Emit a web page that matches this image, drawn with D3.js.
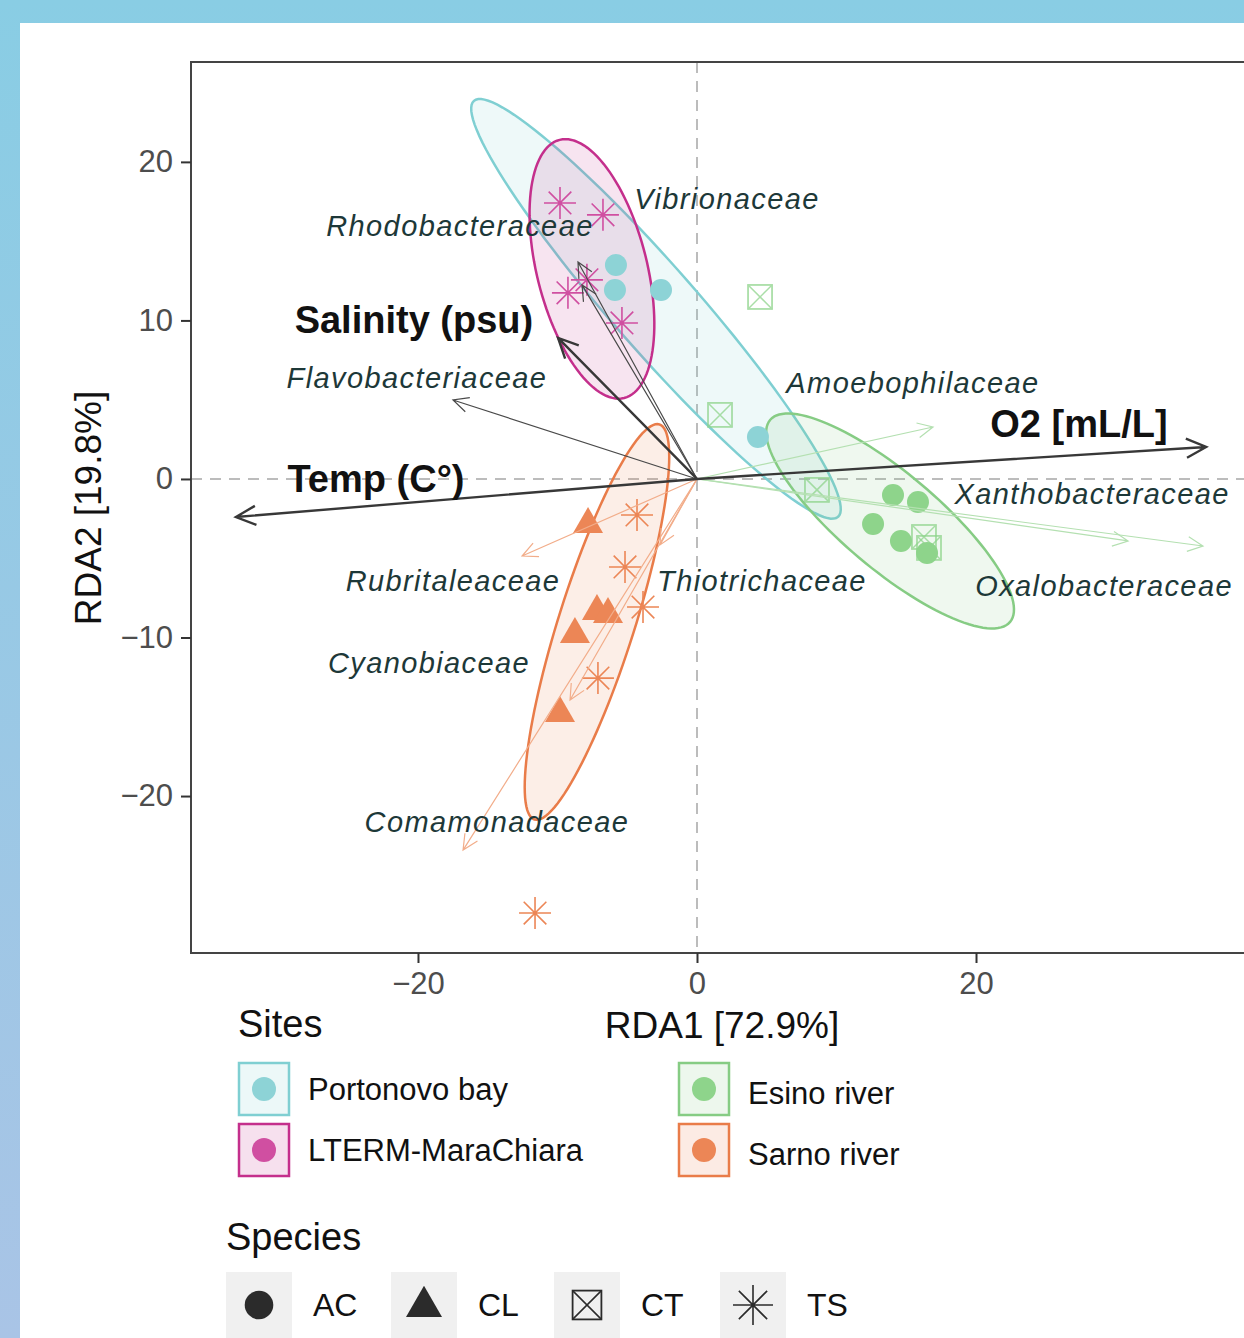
<!DOCTYPE html>
<html>
<head>
<meta charset="utf-8">
<script src="https://cdn.jsdelivr.net/npm/d3@7"></script>
<style>
body { margin: 0; background: linear-gradient(#89cde4, #a9c4e6); width: 1244px; height: 1338px; overflow: hidden; }
svg { display: block; }
text { font-family: "Liberation Sans", Arial, sans-serif; }
</style>
</head>
<body>
<div id="target"></div>
<script>
// sites and species
var sites = ['Portonovo bay', 'LTERM-MaraChiara', 'Esino river', 'Sarno river'];
var speciesNames = ['AC', 'CL', 'CT', 'TS'];

// samples: [site index, species, RDA1, RDA2]
var samples = [
    [0, 'AC', -5.81, 13.50],
    [0, 'AC', -5.88, 11.92],
    [0, 'AC', -2.58, 11.92],
    [0, 'AC', 4.37, 2.65],
    [2, 'CT', 4.52, 11.48],
    [2, 'CT', 1.65, 4.04],
    [2, 'CT', 8.60, -0.69],
    [2, 'AC', 14.05, -1.01],
    [2, 'AC', 15.84, -1.45],
    [2, 'AC', 12.62, -2.84],
    [2, 'AC', 14.62, -3.91],
    [2, 'AC', 16.49, -4.67],
    [2, 'CT', 16.27, -3.66],
    [2, 'CT', 16.63, -4.35],
    [1, 'TS', -9.82, 17.41],
    [1, 'TS', -6.74, 16.66],
    [1, 'TS', -9.25, 11.74],
    [1, 'TS', -7.89, 12.56],
    [1, 'TS', -5.38, 9.84],
    [3, 'CL', -7.81, -2.78],
    [3, 'CL', -7.17, -8.26],
    [3, 'CL', -6.38, -8.45],
    [3, 'CL', -8.75, -9.72],
    [3, 'CL', -9.82, -14.70],
    [3, 'TS', -4.30, -2.27],
    [3, 'TS', -5.16, -5.55],
    [3, 'TS', -3.87, -8.08],
    [3, 'TS', -7.10, -12.56],
    [3, 'TS', -11.61, -27.38]
];

// confidence ellipses per site: centre, semi-axis U, semi-axis V (RDA units)
var ellipseCentre = [[-2.94, 10.73], [-7.53, 13.25], [13.84, -2.65], [-7.17, -9.02]];
var ellipseU = [[13.05, -13.12], [2.31, -8.14], [8.60, -6.37], [-4.48, -12.46]];
var ellipseV = [[2.27, 1.75], [3.83, 0.84], [2.22, 2.32], [2.60, -0.72]];

// environmental vectors
var envNames = ['O2 [mL/L]', 'Temp (C°)', 'Salinity (psu)'];
var envX = [36.5, -33.05, -9.96];
var envY = [2.02, -2.40, 8.90];
var envLabelX = [27.38, -23.01, -20.29];
var envLabelY = [3.47, 0.0, 10.03];

// taxa vectors
var taxaNames = ['Flavobacteriaceae', 'Rhodobacteraceae', 'Vibrionaceae', 'Amoebophilaceae',
    'Xanthobacteraceae', 'Oxalobacteraceae', 'Thiotrichaceae', 'Rubritaleaceae',
    'Cyanobiaceae', 'Comamonadaceae'];
var taxaX = [-17.49, -8.53, -8.24, 16.92, 30.9, 36.27, -2.65, -12.54, -9.10, -16.77];
var taxaY = [4.98, 13.69, 12.24, 3.28, -3.91, -4.23, -4.16, -4.86, -13.94, -23.41];
var taxaGroup = [0, 0, 0, 1, 1, 1, 2, 2, 2, 2];
var taxaLabelX = [-20.07, -16.99, 2.15, 15.48, 28.32, 29.18, 4.66, -17.49, -19.21, -14.34];
var taxaLabelY = [6.37, 15.96, 17.67, 6.06, -0.95, -6.75, -6.44, -6.44, -11.61, -21.64];

var xTicks = [-20, 0, 20];
var yTicks = [-20, -10, 0, 10, 20];

var siteStroke = ['#7fcfd2', '#c42f8c', '#86cc84', '#e97c49'];
var sitePoint = ['#8dd3d6', '#d04fa1', '#8ed48b', '#ec8656'];
var taxaColour = ['#4a4a4a', '#b4e0b1', '#f2ad8a'];

var width = 1244, height = 1338;

var svg = d3.select('#target').append('svg')
    .attr('width', width)
    .attr('height', height);

svg.append('rect')
    .attr('x', 20).attr('y', 23)
    .attr('width', width - 20).attr('height', height - 23)
    .attr('fill', '#fff');

var x = d3.scaleLinear().domain([-36.27, 40.5]).range([191, 1262]);
var y = d3.scaleLinear().domain([-29.9, 26.3]).range([953, 62]);

// zero lines
svg.append('line')
    .attr('x1', x(0)).attr('x2', x(0)).attr('y1', y.range()[1]).attr('y2', y.range()[0])
    .attr('stroke', '#bcbcbc').attr('stroke-width', 2).attr('stroke-dasharray', '11,8');
svg.append('line')
    .attr('x1', x.range()[0]).attr('x2', x.range()[1]).attr('y1', y(0)).attr('y2', y(0))
    .attr('stroke', '#bcbcbc').attr('stroke-width', 2).attr('stroke-dasharray', '11,8');

// ellipses
var ellLine = d3.line().x(function(d) { return x(d[0]); }).y(function(d) { return y(d[1]); });
sites.forEach(function(s, i) {
    var pts = d3.range(0, 121).map(function(k) {
        var t = k / 120 * 2 * Math.PI;
        return [ellipseCentre[i][0] + ellipseU[i][0] * Math.cos(t) + ellipseV[i][0] * Math.sin(t),
                ellipseCentre[i][1] + ellipseU[i][1] * Math.cos(t) + ellipseV[i][1] * Math.sin(t)];
    });
    svg.append('path')
        .attr('d', ellLine(pts) + 'Z')
        .attr('fill', siteStroke[i]).attr('fill-opacity', 0.13)
        .attr('stroke', siteStroke[i]).attr('stroke-width', 2.5);
});

function shape(g, sp, cx, cy, col, s) {
    s = s || 1;
    if (sp == 'AC') {
        g.append('circle').attr('cx', cx).attr('cy', cy).attr('r', 11 * s).attr('fill', col);
    } else if (sp == 'CL') {
        g.append('path')
            .attr('d', 'M' + cx + ',' + (cy - 16 * s) + 'L' + (cx + 15 * s) + ',' + (cy + 10 * s) + 'L' + (cx - 15 * s) + ',' + (cy + 10 * s) + 'Z')
            .attr('fill', col);
    } else if (sp == 'CT') {
        var h = 12 * s;
        g.append('rect').attr('x', cx - h).attr('y', cy - h).attr('width', 2 * h).attr('height', 2 * h)
            .attr('fill', 'none').attr('stroke', col).attr('stroke-width', 1.8);
        g.append('path').attr('d', 'M' + (cx - h) + ',' + (cy - h) + 'L' + (cx + h) + ',' + (cy + h) + 'M' + (cx + h) + ',' + (cy - h) + 'L' + (cx - h) + ',' + (cy + h))
            .attr('stroke', col).attr('stroke-width', 1.5);
    } else {
        var r = 16 * s, d = r * Math.SQRT1_2;
        g.append('path')
            .attr('d', 'M' + (cx - r) + ',' + cy + 'L' + (cx + r) + ',' + cy +
                'M' + cx + ',' + (cy - r) + 'L' + cx + ',' + (cy + r) +
                'M' + (cx - d) + ',' + (cy - d) + 'L' + (cx + d) + ',' + (cy + d) +
                'M' + (cx + d) + ',' + (cy - d) + 'L' + (cx - d) + ',' + (cy + d))
            .attr('stroke', col).attr('stroke-width', 1.6).attr('fill', 'none');
    }
}

// sample points
var pts = svg.append('g');
samples.forEach(function(p) {
    var g = pts.append('g').attr('opacity', p[1] == 'CT' ? 0.75 : 1);
    shape(g, p[1], x(p[2]), y(p[3]), sitePoint[p[0]]);
});

function arrow(x2, y2, col, w, len) {
    var x1 = x(0), y1 = y(0);
    var a = Math.atan2(y2 - y1, x2 - x1), sp = 0.45;
    svg.append('path')
        .attr('d', 'M' + x1 + ',' + y1 + 'L' + x2 + ',' + y2 +
            'M' + (x2 - len * Math.cos(a - sp)) + ',' + (y2 - len * Math.sin(a - sp)) +
            'L' + x2 + ',' + y2 +
            'L' + (x2 - len * Math.cos(a + sp)) + ',' + (y2 - len * Math.sin(a + sp)))
        .attr('stroke', col).attr('stroke-width', w).attr('fill', 'none');
}

// taxa arrows
taxaNames.forEach(function(n, i) {
    arrow(x(taxaX[i]), y(taxaY[i]), taxaColour[taxaGroup[i]], 1.2, 17);
});
// env arrows
envNames.forEach(function(n, i) {
    arrow(x(envX[i]), y(envY[i]), '#383838', 2.4, 22);
});

// labels
svg.append('g').selectAll('text').data(taxaNames).enter().append('text')
    .attr('x', function(d, i) { return x(taxaLabelX[i]); })
    .attr('y', function(d, i) { return y(taxaLabelY[i]); })
    .attr('dy', '0.35em')
    .attr('text-anchor', 'middle')
    .attr('font-style', 'italic')
    .attr('font-size', 29)
    .attr('letter-spacing', 1.4)
    .attr('fill', '#1d3838')
    .text(function(d) { return d; });

svg.append('g').selectAll('text').data(envNames).enter().append('text')
    .attr('x', function(d, i) { return x(envLabelX[i]); })
    .attr('y', function(d, i) { return y(envLabelY[i]); })
    .attr('dy', '0.35em')
    .attr('text-anchor', 'middle')
    .attr('font-weight', 'bold')
    .attr('font-size', 38)
    .attr('fill', '#111')
    .text(function(d) { return d; });

// panel border
svg.append('rect')
    .attr('x', x.range()[0]).attr('y', y.range()[1])
    .attr('width', x.range()[1] - x.range()[0]).attr('height', y.range()[0] - y.range()[1])
    .attr('fill', 'none').attr('stroke', '#444').attr('stroke-width', 2);

// axes
var xAxis = svg.append('g').attr('transform', 'translate(0,' + y.range()[0] + ')')
    .call(d3.axisBottom(x).tickValues(xTicks).tickSize(10).tickPadding(9));
var yAxis = svg.append('g').attr('transform', 'translate(' + x.range()[0] + ',0)')
    .call(d3.axisLeft(y).tickValues(yTicks).tickSize(10).tickPadding(8));
[xAxis, yAxis].forEach(function(a) {
    a.select('.domain').remove();
    a.selectAll('line').attr('stroke', '#333').attr('stroke-width', 2);
    a.selectAll('text').attr('font-size', 31).attr('fill', '#4d4d4d')
        .attr('font-family', '"Liberation Sans", Arial, sans-serif');
});

svg.append('text')
    .attr('x', 722).attr('y', 1038)
    .attr('text-anchor', 'middle').attr('font-size', 37).attr('fill', '#111')
    .text('RDA1 [72.9%]');
svg.append('text')
    .attr('transform', 'translate(101,508) rotate(-90)')
    .attr('text-anchor', 'middle').attr('font-size', 37).attr('fill', '#111')
    .text('RDA2 [19.8%]');

// legend: sites
svg.append('text').attr('x', 238).attr('y', 1037).attr('font-size', 38).attr('fill', '#111').text('Sites');
var keyX = [238, 238, 678, 678], keyY = [1062, 1123, 1062, 1123];
sites.forEach(function(s, i) {
    svg.append('rect')
        .attr('x', keyX[i] + 1).attr('y', keyY[i] + 1).attr('width', 50).attr('height', 52)
        .attr('fill', siteStroke[i]).attr('fill-opacity', 0.15)
        .attr('stroke', siteStroke[i]).attr('stroke-width', 2.5);
    svg.append('circle')
        .attr('cx', keyX[i] + 26).attr('cy', keyY[i] + 27).attr('r', 12)
        .attr('fill', sitePoint[i]);
    svg.append('text')
        .attr('x', keyX[i] + 70).attr('y', keyY[i] + 27 + (i >= 2 ? 4 : 0)).attr('dy', '0.35em')
        .attr('font-size', 31).attr('fill', '#111')
        .text(s);
});

// legend: species
svg.append('text').attr('x', 226).attr('y', 1250).attr('font-size', 38).attr('fill', '#111').text('Species');
var spX = [226, 391, 554, 720];
speciesNames.forEach(function(s, i) {
    svg.append('rect')
        .attr('x', spX[i]).attr('y', 1272).attr('width', 66).attr('height', 66)
        .attr('fill', '#f0f0f0');
    shape(svg, s, spX[i] + 33, 1305, '#2b2b2b', s == 'AC' ? 1.3 : (s == 'TS' ? 1.25 : 1.2));
    svg.append('text')
        .attr('x', spX[i] + 87).attr('y', 1305).attr('dy', '0.35em')
        .attr('font-size', 32).attr('fill', '#111')
        .text(s);
});
</script>
</body>
</html>
